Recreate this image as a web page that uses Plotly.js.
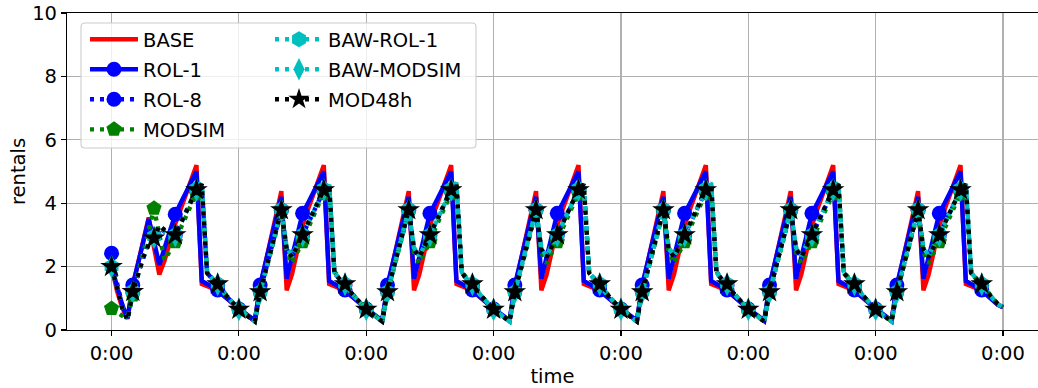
<!DOCTYPE html>
<html><head><meta charset="utf-8">
<script src="https://cdn.plot.ly/plotly-3.0.1.min.js"></script>
<style>html,body{margin:0;padding:0;background:#fff}#chart{width:1038px;height:388px}</style>
</head><body><div id="chart"></div>
<script>
// time axis: hours from the first 0:00 to the last 0:00 (7 days)
const tickHours = [0, 24, 48, 72, 96, 120, 144, 168];
const tickLabels = ['0:00', '0:00', '0:00', '0:00', '0:00', '0:00', '0:00', '0:00'];

// daily profiles (hour 0..23); first day differs, days 2..7 repeat
const baseFirstDay = [2.0, 1.25, 0.7, 0.35, 1.4, 2.1, 2.8, 3.55, 2.6, 1.75, 2.2, 2.8, 3.35, 3.8, 4.3, 4.75, 5.2, 1.45, 1.38, 1.32, 1.25, 1.1, 0.95, 0.8];
const baseDay      = [0.66, 0.53, 0.41, 0.28, 1.35, 2.1, 2.85, 3.6, 4.38, 1.25, 1.75, 2.5, 3.3, 3.8, 4.3, 4.75, 5.2, 1.45, 1.38, 1.32, 1.25, 1.1, 0.95, 0.8];
const baseEnd = 0.72;

const rol1FirstDay = [2.0, 1.4, 0.8, 0.37, 1.42, 2.1, 2.8, 3.5, 2.8, 2.05, 2.6, 3.15, 3.65, 4.0, 4.35, 4.7, 5.0, 1.55, 1.45, 1.35, 1.26, 1.1, 0.95, 0.8];
const rol1Day      = [0.68, 0.55, 0.42, 0.3, 1.42, 2.15, 2.85, 3.55, 4.2, 1.62, 2.35, 3.05, 3.68, 4.0, 4.35, 4.7, 5.0, 1.55, 1.45, 1.35, 1.26, 1.1, 0.95, 0.8];
const rol1End = 0.72;

const rol8FirstDay = [2.42, 1.5, 0.8, 0.35, 1.25, 1.8, 2.35, 2.8, 3.0, 3.25, 3.1, 3.02, 3.0, 3.35, 3.7, 4.05, 4.4, 4.55, 1.8, 1.6, 1.42, 1.2, 1.0, 0.82];
const rol8Day      = [0.66, 0.53, 0.41, 0.28, 1.22, 1.85, 2.5, 3.15, 3.78, 2.55, 2.3, 2.65, 3.0, 3.35, 3.7, 4.05, 4.4, 4.55, 1.8, 1.6, 1.42, 1.2, 1.0, 0.82];
const rol8End = 0.72;

const modsimFirstDay = [0.68, 0.55, 0.45, 0.38, 1.1, 1.8, 2.5, 3.2, 3.84, 3.0, 2.2, 2.5, 2.78, 3.2, 3.6, 3.95, 4.3, 4.55, 1.85, 1.62, 1.45, 1.22, 1.02, 0.83];
const modsimDay      = [0.66, 0.53, 0.41, 0.28, 1.18, 1.82, 2.45, 3.1, 3.72, 2.45, 2.1, 2.45, 2.78, 3.2, 3.6, 3.95, 4.3, 4.55, 1.85, 1.62, 1.45, 1.22, 1.02, 0.83];
const modsimEnd = 0.72;

const bawRol1FirstDay = [2.0, 1.3, 0.7, 0.32, 1.22, 1.78, 2.35, 2.78, 2.95, 3.3, 3.15, 3.05, 3.0, 3.37, 3.72, 4.08, 4.45, 4.65, 1.82, 1.6, 1.45, 1.2, 1.0, 0.82];
const bawRol1Day      = [0.65, 0.52, 0.4, 0.27, 1.2, 1.85, 2.5, 3.15, 3.8, 2.6, 2.35, 2.7, 3.0, 3.37, 3.72, 4.08, 4.45, 4.65, 1.82, 1.6, 1.45, 1.2, 1.0, 0.82];
const bawRol1End = 0.72;

const bawModsimFirstDay = [2.0, 1.3, 0.7, 0.32, 1.2, 1.76, 2.3, 2.72, 2.92, 3.28, 3.12, 3.03, 2.98, 3.34, 3.7, 4.05, 4.42, 4.6, 1.8, 1.6, 1.44, 1.2, 1.0, 0.82];
const bawModsimDay      = [0.65, 0.52, 0.4, 0.27, 1.19, 1.84, 2.48, 3.13, 3.78, 2.58, 2.32, 2.68, 2.98, 3.34, 3.7, 4.05, 4.42, 4.6, 1.8, 1.6, 1.44, 1.2, 1.0, 0.82];
const bawModsimEnd = 0.72;

const mod48FirstDay = [2.0, 1.3, 0.7, 0.32, 1.21, 1.75, 2.3, 2.7, 2.9, 3.3, 3.15, 3.05, 3.0, 3.35, 3.7, 4.05, 4.42, 4.6, 1.8, 1.6, 1.45, 1.2, 1.0, 0.82];
const mod48Day      = [0.65, 0.52, 0.4, 0.27, 1.2, 1.85, 2.5, 3.15, 3.79, 2.55, 2.3, 2.65, 3.0, 3.35, 3.7, 4.05, 4.42, 4.6, 1.8, 1.6, 1.45, 1.2, 1.0, 0.82];
const mod48End = 0.72;

const seriesNames = ['BASE', 'ROL-1', 'ROL-8', 'MODSIM', 'BAW-ROL-1', 'BAW-MODSIM', 'MOD48h'];

function week(first, day, end) {
  return first.concat(day, day, day, day, day, day, [end]);
}
const hours = [];
for (let h = 0; h <= 168; h++) hours.push(h);

const seriesValues = [
  week(baseFirstDay, baseDay, baseEnd),
  week(rol1FirstDay, rol1Day, rol1End),
  week(rol8FirstDay, rol8Day, rol8End),
  week(modsimFirstDay, modsimDay, modsimEnd),
  week(bawRol1FirstDay, bawRol1Day, bawRol1End),
  week(bawModsimFirstDay, bawModsimDay, bawModsimEnd),
  week(mod48FirstDay, mod48Day, mod48End)
];

// styles (markStart/markStep: which hourly samples carry a marker)
const DOT = '4px,6px';
const styles = [
  {color: '#ff0000', dash: 'solid', symbol: null, size: 0, legend: 'legend'},
  {color: '#0000ff', dash: 'solid', symbol: 'circle', size: 15, legend: 'legend', markStart: 4, markStep: 8},
  {color: '#0000ff', dash: DOT, symbol: 'circle', size: 15, legend: 'legend', markStart: 0, markStep: 4},
  {color: '#008000', dash: DOT, symbol: 'pentagon', size: 16, legend: 'legend', markStart: 0, markStep: 4},
  {color: '#00bfbf', dash: DOT, symbol: 'hexagon', size: 16, legend: 'legend2', markStart: 0, markStep: 4},
  {color: '#00bfbf', dash: DOT, symbol: 'diamond-tall', size: 17, legend: 'legend2', markStart: 0, markStep: 4},
  {color: '#000000', dash: DOT, symbol: 'star', size: 17, legend: 'legend2', markStart: 0, markStep: 4}
];
const LW = 4.4;

const traces = [];
seriesNames.forEach((name, i) => {
  const st = styles[i];
  const ys = seriesValues[i];
  traces.push({
    x: hours, y: ys, type: 'scatter', mode: 'lines', showlegend: false,
    line: {color: st.color, width: LW, dash: st.dash}, hoverinfo: 'skip'
  });
  if (st.symbol) {
    const mx = [], my = [];
    hours.forEach((h, k) => {
      if (h >= st.markStart && (h - st.markStart) % st.markStep === 0 && h < 168) { mx.push(h); my.push(ys[k]); }
    });
    traces.push({
      x: mx, y: my, type: 'scatter', mode: 'markers', showlegend: false,
      marker: {color: st.color, size: st.size, symbol: st.symbol, line: {width: 0}}, hoverinfo: 'skip'
    });
  }
});
// legend entries
seriesNames.forEach((name, i) => {
  const st = styles[i];
  const t = {
    x: [null], y: [null], type: 'scatter', name: name, legend: st.legend, legendgroup: name,
    mode: st.symbol ? 'lines+markers' : 'lines',
    line: {color: st.color, width: LW, dash: st.dash}
  };
  if (st.symbol) t.marker = {color: st.color, size: st.size, symbol: st.symbol, line: {width: 0}};
  traces.push(t);
});

const W = 1038, H = 388, L = 67, R = 0, T = 13, B = 58;
const pw = W - L - R, ph = H - T - B;
function px2x(p) { return (p - L) / pw; }
function px2y(p) { return (H - B - p) / ph; }

// legend frame (rounded)
const bx0 = px2x(81), bx1 = px2x(476), by0 = px2y(148), by1 = px2y(23);
const rx = 4 / pw, ry = 4 / ph;
const framePath = `M${bx0 + rx},${by1} L${bx1 - rx},${by1} Q${bx1},${by1} ${bx1},${by1 - ry} L${bx1},${by0 + ry} Q${bx1},${by0} ${bx1 - rx},${by0} L${bx0 + rx},${by0} Q${bx0},${by0} ${bx0},${by0 + ry} L${bx0},${by1 - ry} Q${bx0},${by1} ${bx0 + rx},${by1} Z`;

const FS = 19.5;
const legendCommon = {
  xanchor: 'left', yanchor: 'top', itemwidth: 48,
  bgcolor: 'rgba(0,0,0,0)', borderwidth: 0, font: {size: FS},
  traceorder: 'grouped', tracegroupgap: 1.7
};
const layout = {
  width: W, height: H,
  margin: {l: L, r: R, t: T, b: B, pad: 0},
  paper_bgcolor: '#ffffff', plot_bgcolor: '#ffffff',
  font: {family: 'DejaVu Sans, sans-serif', size: FS, color: '#000000'},
  showlegend: true,
  xaxis: {
    range: [-8.4, 174.6], tickmode: 'array', tickvals: tickHours, ticktext: tickLabels,
    showgrid: true, gridcolor: '#b0b0b0', gridwidth: 1.1, zeroline: false,
    showline: true, linecolor: '#000000', linewidth: 1.1, mirror: true,
    ticks: 'outside', ticklen: 5, tickwidth: 1.1, tickcolor: '#000000',
    tickfont: {size: FS},
    title: {text: 'time', font: {size: FS}, standoff: 6}
  },
  yaxis: {
    range: [0, 10], tickmode: 'array', tickvals: [0, 2, 4, 6, 8, 10], ticktext: ['0', '2', '4', '6', '8', '10'],
    showgrid: true, gridcolor: '#b0b0b0', gridwidth: 1.1, zeroline: false,
    showline: true, linecolor: '#000000', linewidth: 1.1,
    ticks: 'outside', ticklen: 5, tickwidth: 1.1, tickcolor: '#000000',
    tickfont: {size: FS},
    title: {text: 'rentals', font: {size: FS}, standoff: 1}
  },
  legend: Object.assign({x: px2x(85), y: px2y(20)}, legendCommon),
  legend2: Object.assign({x: px2x(85 + 185), y: px2y(20)}, legendCommon),
  shapes: [{
    type: 'path', xref: 'paper', yref: 'paper', path: framePath, layer: 'above',
    fillcolor: 'rgba(255,255,255,0.8)', line: {color: '#cccccc', width: 1.1}
  }]
};

Plotly.newPlot('chart', traces, layout, {displayModeBar: false, staticPlot: true});
</script>
</body></html>
